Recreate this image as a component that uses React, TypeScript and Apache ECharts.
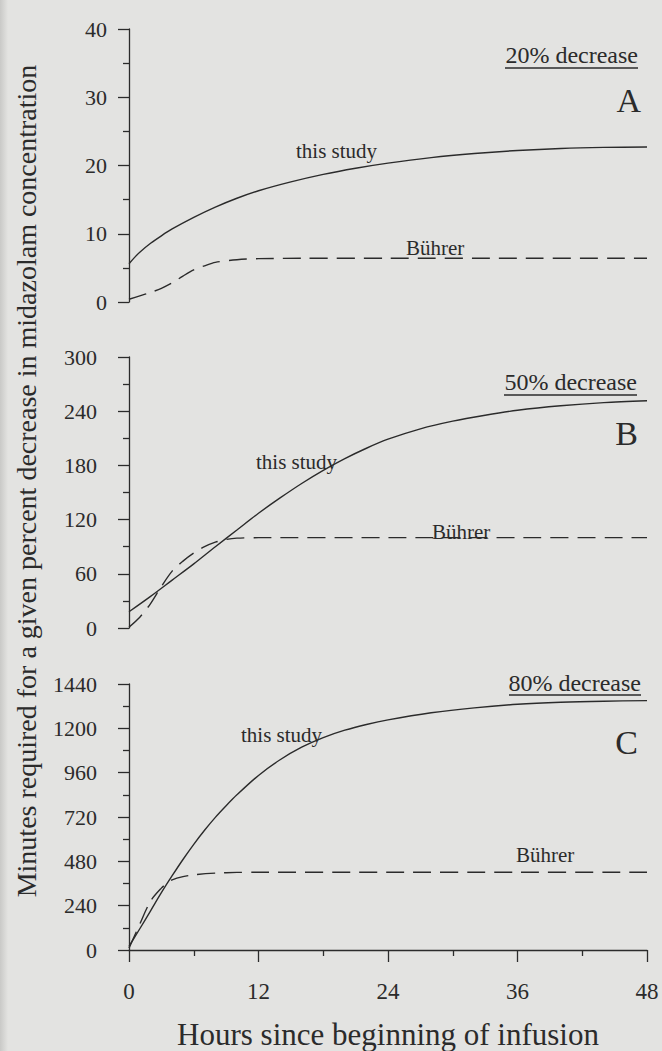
import React, { useEffect, useRef } from "react";
import * as echarts from "echarts";

// Panel A: 20% decrease
const hoursA = [0, 0.5, 1, 2, 3, 4, 6, 8, 10, 12, 15, 18, 21, 24, 28, 32, 36, 40, 44, 48];
const studyA = [5.6, 6.5, 7.3, 8.6, 9.7, 10.7, 12.4, 13.9, 15.2, 16.3, 17.6, 18.7, 19.6, 20.35, 21.15, 21.75, 22.2, 22.5, 22.65, 22.7];
const hoursBuhA = [0, 1, 2, 3, 4, 5, 6, 7, 8, 10, 12, 16, 24, 36, 48];
const buhrerA = [0.4, 0.9, 1.4, 2.0, 2.8, 3.8, 4.7, 5.3, 5.8, 6.2, 6.35, 6.4, 6.4, 6.4, 6.4];

// Panel B: 50% decrease
const hoursB = [0, 2, 4, 6, 8, 10, 12, 14, 16, 18, 20, 22, 24, 27, 30, 33, 36, 40, 44, 48];
const studyB = [18, 35, 53, 71, 90, 108.5, 127, 144, 160, 174.5, 187.5, 199, 209, 220.5, 229, 235.5, 241, 246, 249.5, 251.5];
const hoursBuhB = [0, 1, 2, 3, 4, 5, 6, 7, 8, 9, 10, 12, 24, 36, 48];
const buhrerB = [1, 12, 27, 46, 63, 74, 83, 90, 95, 98, 99.5, 100, 100, 100, 100];

// Panel C: 80% decrease
const hoursC = [0, 1, 2, 3, 4, 5, 6, 7, 8, 9, 10, 12, 14, 16, 18, 20, 22, 24, 28, 32, 36, 40, 44, 48];
const studyC = [20, 115, 212, 310, 402, 490, 572, 648, 718, 781, 840, 945, 1030, 1098, 1150, 1190, 1221, 1246, 1284, 1311, 1330, 1341, 1347, 1350];
const hoursBuhC = [0, 1, 2, 3, 3.6, 4, 5, 6, 8, 10, 12, 24, 36, 48];
const buhrerC = [10, 140, 265, 335, 365, 380, 397, 407, 416, 420, 421, 421, 421, 421];

const xTicks = { min: 0, max: 48, interval: 12 };
const yRanges = [
  { min: 0, max: 40, interval: 10 },
  { min: 0, max: 300, interval: 60 },
  { min: 0, max: 1440, interval: 240 },
];
const panelTitles = ["20% decrease", "50% decrease", "80% decrease"];
const panelLetters = ["A", "B", "C"];
const curveLabels = ["this study", "Bührer"];
const xName = "Hours since beginning of infusion";
const yName = "Minutes required for a given percent decrease in midazolam concentration";

const FAMILY = "Liberation Serif";
const INK = "#2b2b2b";
const BG = "#e3e3e1";

const pairs = (xs: number[], ys: number[]) => xs.map((x, i) => [x, ys[i]]);

export default function App() {
  const ref = useRef<HTMLDivElement>(null);
  useEffect(() => {
    if (!ref.current) return;
    const chart = echarts.init(ref.current, undefined, { renderer: "svg" });
    const grids = [
      { left: 129, right: 15, top: 29, height: 273 },
      { left: 129, right: 15, top: 357, height: 271 },
      { left: 129, right: 15, top: 684, height: 272 },
    ];
    const labelMargins = [22, 32, 32];
    const xAxes = grids.map((_, i) => ({
      type: "value",
      gridIndex: i,
      ...xTicks,
      show: i === 2,
      offset: 7,
      axisLine: { show: true, lineStyle: { color: INK, width: 1.3 } },
      axisTick: { show: true, length: 12, lineStyle: { color: INK, width: 1.3 } },
      minorTick: { show: true, splitNumber: 2, length: 6, lineStyle: { color: INK, width: 1.3 } },
      splitLine: { show: false },
      minorSplitLine: { show: false },
      axisLabel: { color: INK, fontFamily: FAMILY, fontSize: 23, margin: 23, formatter: (v: number) => String(v) },
      name: i === 2 ? xName : "",
      nameLocation: "middle",
      nameGap: 62,
      nameTextStyle: { color: INK, fontFamily: FAMILY, fontSize: 31 },
    }));
    const yAxes = grids.map((_, i) => ({
      type: "value",
      gridIndex: i,
      ...yRanges[i],
      axisLine: { show: true, lineStyle: { color: INK, width: 1.3 } },
      axisTick: { show: true, length: 11, lineStyle: { color: INK, width: 1.3 } },
      minorTick: { show: true, splitNumber: 2, length: 6, lineStyle: { color: INK, width: 1.3 } },
      splitLine: { show: false },
      minorSplitLine: { show: false },
      axisLabel: {
        color: INK,
        fontFamily: FAMILY,
        fontSize: 22,
        margin: labelMargins[i],
        formatter: (v: number) => String(v),
      },
    }));
    const studies = [pairs(hoursA, studyA), pairs(hoursB, studyB), pairs(hoursC, studyC)];
    const buhrers = [pairs(hoursBuhA, buhrerA), pairs(hoursBuhB, buhrerB), pairs(hoursBuhC, buhrerC)];
    const series: any[] = [];
    for (let i = 0; i < 3; i++) {
      series.push({
        type: "line",
        name: "this study",
        xAxisIndex: i,
        yAxisIndex: i,
        data: studies[i],
        smooth: 0.3,
        showSymbol: false,
        lineStyle: { color: INK, width: 1.4 },
      });
      series.push({
        type: "line",
        name: "Bührer",
        xAxisIndex: i,
        yAxisIndex: i,
        data: buhrers[i],
        smooth: 0.3,
        showSymbol: false,
        lineStyle: { color: INK, width: 1.4, type: [18, 9] },
      });
    }
    const titlePos = [
      { x: 638, y: 55, uy: 68, ux1: 505 },
      { x: 637, y: 382, uy: 395, ux1: 504 },
      { x: 641, y: 683, uy: 695, ux1: 509 },
    ];
    const letterPos = [
      { x: 641, y: 100 },
      { x: 638, y: 433 },
      { x: 638, y: 742 },
    ];
    const studyPos = [
      { x: 296, y: 151 },
      { x: 256, y: 462 },
      { x: 241, y: 735 },
    ];
    const buhPos = [
      { x: 406, y: 248 },
      { x: 432, y: 532 },
      { x: 516, y: 855 },
    ];
    const font = (size: number) => `${size}px "${FAMILY}", serif`;
    const graphic: any[] = [
      {
        type: "rect",
        shape: { x: 0, y: 0, width: 8, height: 1051 },
        style: {
          fill: new echarts.graphic.LinearGradient(0, 0, 1, 0, [
            { offset: 0, color: "#c9c9c7" },
            { offset: 1, color: BG },
          ]),
        },
        z: -1,
      },
    ];
    for (let i = 0; i < 3; i++) {
      graphic.push({
        type: "text",
        x: titlePos[i].x,
        y: titlePos[i].y,
        style: { text: panelTitles[i], fill: INK, font: font(24), textAlign: "right", textVerticalAlign: "middle" },
      });
      graphic.push({
        type: "line",
        shape: { x1: titlePos[i].ux1, y1: titlePos[i].uy, x2: titlePos[i].x, y2: titlePos[i].uy },
        style: { stroke: INK, lineWidth: 1.4 },
      });
      graphic.push({
        type: "text",
        x: letterPos[i].x,
        y: letterPos[i].y,
        style: { text: panelLetters[i], fill: INK, font: font(34), textAlign: "right", textVerticalAlign: "middle" },
      });
      graphic.push({
        type: "text",
        x: studyPos[i].x,
        y: studyPos[i].y,
        style: { text: curveLabels[0], fill: INK, font: font(21), textAlign: "left", textVerticalAlign: "middle" },
      });
      graphic.push({
        type: "text",
        x: buhPos[i].x,
        y: buhPos[i].y,
        style: { text: curveLabels[1], fill: INK, font: font(21), textAlign: "left", textVerticalAlign: "middle" },
      });
    }
    graphic.push({
      type: "text",
      x: 26,
      y: 481,
      rotation: Math.PI / 2,
      style: { text: yName, fill: INK, font: font(28), textAlign: "center", textVerticalAlign: "middle" },
    });
    chart.setOption({
      animation: false,
      backgroundColor: BG,
      grid: grids,
      xAxis: xAxes,
      yAxis: yAxes,
      series,
      graphic,
    });
    return () => chart.dispose();
  }, []);
  return (
    <div
      ref={ref}
      style={{ position: "absolute", left: 0, top: 0, width: 662, height: 1051 }}
    />
  );
}
